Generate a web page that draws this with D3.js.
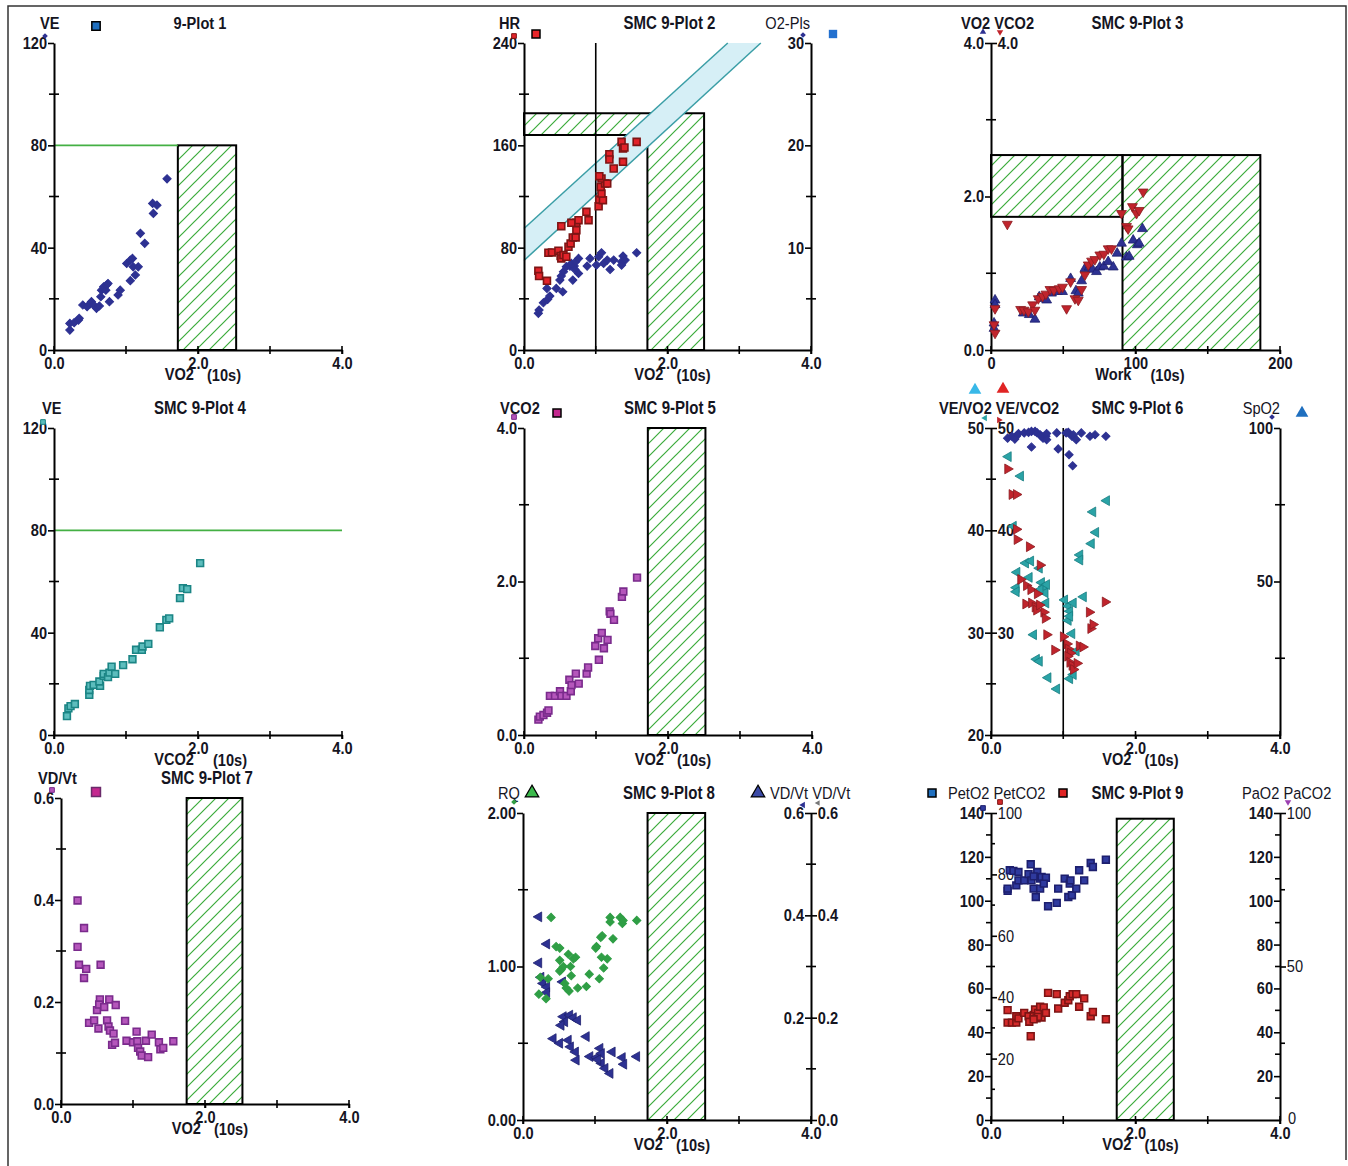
<!DOCTYPE html>
<html lang="en">
<head>
<meta charset="utf-8">
<title>SMC 9-Plot</title>
<script src="https://cdn.jsdelivr.net/npm/d3@7"></script>
<style>
  body { margin: 0; background: #fff; }
  text { fill: #15151f; }
</style>
</head>
<body>
<div id="chart"></div>
<script>
var FONT = "'Liberation Sans',Arial,sans-serif";
var NARROW = 0.86;   // squeeze Arial into an Arial Narrow look

// ---- data ([x, y] pairs) ----
// plot 1: VE vs VO2
var plot1VE = [[0.22,7.8],[0.22,10.4],[0.28,10.7],[0.34,11.7],[0.35,12.4],[0.40,17.6],[0.46,16.9],[0.50,18.0],[0.52,18.9],[0.55,17.6],[0.59,16.3],[0.63,17.2],[0.65,20.8],[0.66,23.4],[0.69,24.7],[0.72,23.4],[0.73,25.4],[0.75,26.0],[0.77,18.9],[0.89,21.5],[0.92,23.4],[1.01,33.8],[1.06,35.1],[1.09,35.8],[1.10,32.5],[1.13,29.3],[1.06,27.1],[1.17,32.5],[1.20,45.6],[1.26,41.7],[1.37,57.3],[1.38,53.4],[1.43,56.6],[1.57,66.9]];
var plot1Zone = [1.72, 2.53, 80];   // VO2 from, VO2 to, VE ceiling
var veLimit = 80;

// plot 2: HR and O2 pulse vs VO2
var plot2HR = [[0.20,61.9],[0.21,57.8],[0.32,54.1],[0.34,76.0],[0.39,76.3],[0.48,77.6],[0.51,73.4],[0.52,71.6],[0.55,74.2],[0.59,72.9],[0.62,80.7],[0.65,83.3],[0.68,88.0],[0.72,88.0],[0.73,93.7],[0.73,99.4],[0.66,99.4],[0.52,96.8],[0.76,101.5],[0.87,108.0],[0.90,101.5],[1.04,112.4],[1.05,117.6],[1.10,117.1],[1.08,122.3],[1.07,127.5],[1.13,130.1],[1.08,134.0],[1.05,135.9],[1.16,130.1],[1.19,153.0],[1.19,148.9],[1.25,141.9],[1.38,147.1],[1.36,162.7],[1.38,157.5],[1.40,158.3],[1.57,162.7]];
var plot2O2P = [[0.20,3.58],[0.21,3.91],[0.27,4.62],[0.33,4.95],[0.36,5.27],[0.32,6.02],[0.45,6.02],[0.54,5.69],[0.50,6.83],[0.52,7.22],[0.55,7.65],[0.59,8.14],[0.64,8.20],[0.66,8.46],[0.70,8.20],[0.72,8.62],[0.76,7.48],[0.68,6.83],[0.71,7.87],[0.76,8.95],[0.88,8.20],[0.92,8.95],[1.01,8.30],[1.04,9.11],[1.08,9.50],[1.11,8.46],[1.16,8.79],[1.20,7.87],[1.25,8.79],[1.36,8.62],[1.38,9.18],[1.41,8.79],[1.36,8.30],[1.57,9.50]];
var plot2Zone = [[0,168],[0,185],[2.51,185],[2.51,0],[1.72,0],[1.72,168]];
var plot2Band = [[0,70],[3.30,240],[2.84,240],[0,95]];
var plot2BandLow = [[0,70],[3.30,240]];
var plot2BandHigh = [[0,95],[2.84,240]];
var vo2Marker = 1.0;

// plot 3: VO2 and VCO2 vs work
var plot3VCO2 = [[2.8,0.54],[2.1,0.33],[2.8,0.22],[11.3,1.64],[20.5,0.53],[22.8,0.52],[25.8,0.50],[28.8,0.59],[30.4,0.52],[32.7,0.67],[35.7,0.70],[38.0,0.73],[40.8,0.79],[43.5,0.78],[47.2,0.80],[49.5,0.82],[52.3,0.54],[55.1,0.89],[58.1,0.67],[60.4,0.65],[62.7,0.79],[65.0,0.98],[67.3,1.11],[69.6,1.16],[71.9,1.18],[75.3,1.24],[78.1,1.25],[81.1,1.32],[83.4,1.32],[90.3,1.78],[93.8,1.61],[94.9,1.58],[97.9,1.87],[100.7,1.78],[102.5,1.82],[105.3,2.06]];
var plot3VO2 = [[2.8,0.65],[2.8,0.59],[2.1,0.28],[2.1,0.35],[22.4,0.48],[26.5,0.46],[30.4,0.40],[33.4,0.69],[35.7,0.67],[38.5,0.65],[41.9,0.74],[45.9,0.76],[49.5,0.76],[55.1,0.93],[58.8,0.77],[60.4,0.74],[62.7,0.90],[65.0,1.06],[68.0,1.08],[70.3,1.05],[73.0,1.02],[75.3,1.08],[78.1,1.09],[81.1,1.15],[84.6,1.08],[87.3,1.26],[90.3,1.39],[93.8,1.21],[95.6,1.22],[98.4,1.43],[101.2,1.37],[102.5,1.39],[104.8,1.58]];
var plot3ZoneA = [0, 91, 1.735, 2.54];
var plot3ZoneB = [91, 186.4, 0, 2.54];

// plot 4: VE vs VCO2
var plot4VE = [[0.18,7.4],[0.20,10.4],[0.23,11.3],[0.29,12.1],[0.49,15.7],[0.49,17.6],[0.50,19.2],[0.55,19.6],[0.64,19.2],[0.63,20.9],[0.69,23.1],[0.69,23.9],[0.75,22.6],[0.77,24.4],[0.80,26.7],[0.85,23.9],[0.96,27.3],[1.09,29.6],[1.14,33.3],[1.22,33.3],[1.23,34.6],[1.31,35.6],[1.47,42.1],[1.56,45.0],[1.60,45.6],[1.75,53.5],[1.79,57.4],[1.85,57.0],[2.03,67.2]];

// plot 5: VCO2 vs VO2
var plot5VCO2 = [[0.20,0.20],[0.22,0.24],[0.27,0.26],[0.32,0.29],[0.34,0.32],[0.36,0.51],[0.43,0.51],[0.50,0.57],[0.52,0.51],[0.59,0.51],[0.65,0.57],[0.63,0.72],[0.66,0.65],[0.72,0.80],[0.76,0.67],[0.87,0.80],[0.89,0.88],[1.04,0.98],[0.99,1.16],[1.03,1.26],[1.08,1.33],[1.11,1.13],[1.16,1.24],[1.19,1.61],[1.20,1.58],[1.25,1.50],[1.36,1.80],[1.38,1.87],[1.57,2.05]];
var plot5Zone = [1.72, 2.52, 4.0];

// plot 6: VE/VO2, VE/VCO2, SpO2 vs VO2
var plot6SpO2 = [[0.23,96.7],[0.29,97.3],[0.35,97.3],[0.38,98.2],[0.46,98.4],[0.52,98.6],[0.56,98.9],[0.61,98.9],[0.64,98.4],[0.68,97.8],[0.70,97.3],[0.72,96.7],[0.76,97.3],[0.77,98.2],[0.91,98.4],[1.07,98.6],[1.12,97.3],[1.14,97.8],[1.18,96.2],[1.25,98.4],[1.37,97.3],[1.44,97.8],[1.59,97.3],[0.56,93.8],[0.93,93.2],[1.08,91.3],[1.13,87.7],[1.04,98.4],[0.77,96.2],[0.33,96.4]];
var plot6VEVO2 = [[0.24,47.2],[0.41,45.3],[0.31,40.4],[0.36,35.9],[0.35,34.4],[0.35,34.0],[0.48,36.8],[0.53,35.4],[0.55,37.0],[0.67,36.3],[0.70,34.9],[0.73,34.5],[0.75,33.9],[0.77,34.7],[0.68,34.2],[0.76,32.9],[0.59,29.8],[0.63,27.4],[0.67,27.2],[0.79,25.6],[0.91,24.5],[1.02,33.2],[1.07,32.6],[1.09,32.1],[1.07,31.2],[1.12,29.9],[1.09,25.5],[1.14,25.9],[1.18,28.2],[1.23,37.6],[1.23,37.1],[1.28,33.5],[1.39,38.7],[1.41,41.8],[1.45,39.8],[1.60,42.9],[1.14,32.9],[1.09,31.6]];
var plot6VEVCO2 = [[0.23,46.0],[0.29,43.5],[0.35,43.5],[0.35,40.1],[0.36,39.1],[0.53,38.4],[0.41,35.2],[0.49,34.6],[0.55,34.2],[0.64,33.8],[0.68,36.6],[0.48,32.8],[0.56,32.9],[0.61,32.5],[0.63,32.2],[0.67,32.7],[0.73,32.0],[0.75,31.4],[0.77,29.8],[0.88,28.3],[1.00,29.6],[1.05,28.9],[1.07,28.4],[1.10,28.0],[1.06,27.7],[1.09,27.1],[1.12,26.8],[1.14,26.4],[1.19,27.0],[1.22,28.7],[1.27,28.6],[1.36,32.0],[1.38,30.4],[1.41,30.8],[1.58,33.0]];

// plot 7: VD/Vt vs VO2
var plot7VDVt = [[0.23,0.399],[0.32,0.345],[0.23,0.308],[0.25,0.273],[0.35,0.265],[0.32,0.247],[0.55,0.273],[0.50,0.184],[0.54,0.205],[0.53,0.195],[0.60,0.190],[0.67,0.205],[0.76,0.194],[0.39,0.159],[0.46,0.164],[0.52,0.148],[0.64,0.164],[0.66,0.152],[0.68,0.144],[0.73,0.138],[0.71,0.116],[0.75,0.120],[0.89,0.163],[0.91,0.124],[1.00,0.121],[1.05,0.142],[1.06,0.123],[1.07,0.110],[1.10,0.103],[1.12,0.095],[1.18,0.124],[1.21,0.092],[1.26,0.136],[1.36,0.121],[1.38,0.107],[1.42,0.110],[1.56,0.123]];
var plot7Zone = [1.745, 2.52, 0.6];

// plot 8: RQ and VD/Vt vs VO2
var plot8RQ = [[0.22,0.82],[0.32,0.79],[0.24,0.93],[0.35,0.92],[0.39,1.32],[0.46,1.13],[0.51,1.12],[0.51,1.04],[0.53,0.98],[0.56,1.00],[0.51,0.97],[0.58,0.89],[0.60,0.86],[0.64,0.84],[0.63,1.08],[0.66,1.00],[0.67,0.94],[0.70,1.05],[0.73,1.06],[0.76,0.86],[0.88,0.87],[0.92,0.95],[1.01,1.12],[1.02,1.13],[1.06,0.92],[1.08,1.19],[1.10,1.20],[1.09,1.06],[1.12,0.99],[1.17,1.05],[1.21,1.32],[1.21,1.29],[1.25,1.18],[1.35,1.32],[1.38,1.28],[1.39,1.30],[1.58,1.30]];
var plot8VDVt = [[0.22,0.397],[0.33,0.344],[0.22,0.307],[0.25,0.279],[0.28,0.267],[0.33,0.260],[0.33,0.249],[0.55,0.270],[0.56,0.202],[0.58,0.192],[0.53,0.185],[0.65,0.205],[0.70,0.200],[0.76,0.195],[0.42,0.159],[0.51,0.150],[0.63,0.156],[0.66,0.143],[0.73,0.133],[0.74,0.117],[0.88,0.163],[0.93,0.124],[1.02,0.122],[1.07,0.140],[1.09,0.111],[1.14,0.101],[1.21,0.091],[1.24,0.133],[1.38,0.122],[1.40,0.109],[1.58,0.124],[1.09,0.130],[1.04,0.118]];
var plot8Zone = [1.73, 2.53, 2.0];

// plot 9: PetO2 and PetCO2 vs VO2
var plot9PetO2 = [[0.23,104.5],[0.23,105.5],[0.26,113.9],[0.31,113.6],[0.35,107.0],[0.38,113.1],[0.38,109.3],[0.46,109.3],[0.52,112.1],[0.55,116.6],[0.56,109.3],[0.59,105.5],[0.62,101.7],[0.64,113.1],[0.68,110.1],[0.68,105.5],[0.70,110.8],[0.76,110.5],[0.79,97.5],[0.91,99.0],[0.93,105.5],[1.02,110.1],[1.07,101.7],[1.09,107.8],[1.10,109.3],[1.12,102.5],[1.18,105.5],[1.22,113.9],[1.29,109.3],[1.38,117.2],[1.41,115.4],[1.59,118.7],[0.73,107.8],[0.59,111.1]];
var plot9PetCO2 = [[0.23,35.8],[0.23,31.7],[0.29,31.7],[0.35,31.7],[0.35,33.8],[0.38,33.1],[0.46,34.9],[0.52,33.8],[0.53,32.0],[0.55,27.3],[0.59,34.2],[0.61,36.0],[0.63,33.1],[0.65,34.9],[0.68,36.9],[0.70,33.4],[0.73,36.7],[0.76,34.9],[0.79,41.4],[0.91,41.0],[0.93,36.3],[1.02,38.2],[1.07,39.0],[1.09,40.3],[1.13,41.0],[1.18,41.0],[1.22,36.9],[1.29,39.6],[1.38,33.8],[1.41,35.2],[1.59,32.8],[0.65,33.6],[0.59,32.8]];
var plot9Zone = [1.74, 2.53, 137.4];

// ---- tick values ----
var vo2Ticks = [0, 2, 4], vo2Minor = [1, 3];
var workTicks = [0, 100, 200], workMinor = [50, 150];
var veTicks = [0, 40, 80, 120], veMinor = [20, 60, 100];
var hrTicks = [0, 80, 160, 240], hrMinor = [40, 120, 200];
var o2pTicks = [10, 20, 30], o2pMinor = [5, 15, 25];
var litreTicks = [0, 2, 4], litreMinor = [1, 3];
var eqTicks = [20, 30, 40, 50], eqInner = [30, 40, 50], eqMinor = [25, 35, 45];
var spo2Ticks = [50, 100], spo2Minor = [25, 75];
var vdTicks = [0, 0.2, 0.4, 0.6], vdMinor = [0.1, 0.3, 0.5];
var rqTicks = [0, 1, 2], rqMinor = [0.5, 1.5];
var po2Ticks = [0, 20, 40, 60, 80, 100, 120, 140], po2Minor = [10, 30, 50, 70, 90, 110, 130];
var pco2Ticks = [20, 40, 60, 80, 100], pco2Minor = [10, 30, 50, 70, 90];
var paco2Ticks = [0, 50, 100], paco2Minor = [25, 75];

// ---- colours ----
var navy = "#2d3192", navyDark = "#1d1f6e";
var redFill = "#e2232a", redEdge = "#7d1414";
var tealFill = "#5cbdbd", tealEdge = "#1b8585";
var purpFill = "#b556bb", purpEdge = "#7a2b8c";
var triRed = "#c0242c", triTeal = "#2aa3a6";
var green = "#2f9e45";

var w = 1348, h = 1166;
var svg = d3.select("#chart").append("svg").attr("width", w).attr("height", h);

var defs = svg.append("defs");
defs.append("pattern").attr("id", "hatch")
  .attr("patternUnits", "userSpaceOnUse").attr("width", 13).attr("height", 13)
  .append("path").attr("d", "M-2,2 l4,-4 M0,13 l13,-13 M11,15 l4,-4")
  .attr("stroke", "#3bab3b").attr("stroke-width", 1.2);

// outer frame
svg.append("path").attr("d", "M8,1166 V6 H1346 V1160")
  .attr("fill", "none").attr("stroke", "#333").attr("stroke-width", 1.5);

function makePanel(left, right, top, bottom, xDom, yDom, y2Dom) {
  var g = svg.append("g");
  var x = d3.scaleLinear().domain(xDom).range([left, right]);
  var y = d3.scaleLinear().domain(yDom).range([bottom, top]);
  var y2 = y2Dom ? d3.scaleLinear().domain(y2Dom).range([bottom, top]) : null;
  return {g: g, x: x, y: y, y2: y2, left: left, right: right, top: top, bottom: bottom};
}

function styleAxis(a, bold) {
  a.attr("font-family", FONT).attr("font-size", 17).attr("font-weight", bold === false ? "normal" : "bold");
  a.select(".domain").attr("stroke", "#000").attr("stroke-width", 2);
  a.selectAll(".tick line").attr("stroke", "#000").attr("stroke-width", 1.6);
  a.selectAll(".tick text").attr("fill", "#15151f").attr("transform", "scale(" + NARROW + ",1)");
}

function minorTicks(pl, scale, xPos, vals, lo, hi) {
  pl.g.append("g").selectAll("line").data(vals).join("line")
    .attr("x1", xPos + lo).attr("x2", xPos + hi)
    .attr("y1", function(d) { return scale(d); }).attr("y2", function(d) { return scale(d); })
    .attr("stroke", "#000").attr("stroke-width", 1.6);
}

function yAxis(pl, scale, xPos, side, ticks, fmt, showDomain, bold) {
  var ax = (side == "left" ? d3.axisLeft(scale) : d3.axisRight(scale))
    .tickValues(ticks).tickFormat(fmt).tickSize(6).tickSizeOuter(0).tickPadding(2);
  var a = pl.g.append("g").attr("transform", "translate(" + xPos + ",0)").call(ax);
  styleAxis(a, bold);
  if (!showDomain) a.select(".domain").remove();
  return a;
}

function xAxis(pl, ticks, minor, fmt, name, gap) {
  var ax = d3.axisBottom(pl.x).tickValues(ticks).tickFormat(fmt).tickSize(4).tickSizeOuter(0).tickPadding(3);
  var a = pl.g.append("g").attr("transform", "translate(0," + pl.bottom + ")").call(ax);
  styleAxis(a);
  pl.g.append("g").selectAll("line").data(ticks.concat(minor)).join("line")
    .attr("x1", function(d) { return pl.x(d); }).attr("x2", function(d) { return pl.x(d); })
    .attr("y1", pl.bottom - 4).attr("y2", pl.bottom + 4)
    .attr("stroke", "#000").attr("stroke-width", 1.6);
  // the axis name runs under the middle tick label, as in the original
  var mid = pl.x(ticks[1]);
  label(mid - 4, pl.bottom + 30, name, "end", true);
  label(mid + gap, pl.bottom + 31, "(10s)", "start", true);
}

function label(x, y, s, anchor, bold, size) {
  return svg.append("text")
    .attr("transform", "translate(" + x + "," + y + ") scale(" + NARROW + ",1)")
    .text(s)
    .attr("text-anchor", anchor || "start")
    .attr("font-family", FONT).attr("font-size", size || 17)
    .attr("font-weight", bold ? "bold" : "normal");
}

function title(pl, s) {
  label((pl.left + pl.right) / 2 + 2, pl.top - 14, s, "middle", true, 17.5);
}

var shapes = {
  diamond: {type: d3.symbolSquare, rot: 45},
  square: {type: d3.symbolSquare, rot: 0},
  up: {type: d3.symbolTriangle, rot: 0},
  down: {type: d3.symbolTriangle, rot: 180},
  left: {type: d3.symbolTriangle, rot: -90},
  right: {type: d3.symbolTriangle, rot: 90}
};

function points(pl, data, yScale, shape, size, fill, stroke, sw) {
  var s = shapes[shape];
  pl.g.append("g").selectAll("path").data(data).join("path")
    .attr("transform", function(d) {
      return "translate(" + pl.x(d[0]) + "," + yScale(d[1]) + ") rotate(" + s.rot + ")";
    })
    .attr("d", d3.symbol().type(s.type).size(size))
    .attr("fill", fill).attr("stroke", stroke || "none").attr("stroke-width", sw || 1);
}

function glyph(x, y, shape, size, fill, stroke, sw) {
  var s = shapes[shape];
  svg.append("path")
    .attr("transform", "translate(" + x + "," + y + ") rotate(" + s.rot + ")")
    .attr("d", d3.symbol().type(s.type).size(size))
    .attr("fill", fill).attr("stroke", stroke || "none").attr("stroke-width", sw || 1);
}

function zoneRect(pl, yScale, x0, x1, y0, y1) {
  pl.g.append("rect")
    .attr("x", pl.x(x0)).attr("y", yScale(y1))
    .attr("width", pl.x(x1) - pl.x(x0)).attr("height", yScale(y0) - yScale(y1))
    .attr("fill", "url(#hatch)").attr("stroke", "#000").attr("stroke-width", 2);
}

function vLine(pl, v) {
  pl.g.append("line").attr("x1", pl.x(v)).attr("x2", pl.x(v))
    .attr("y1", pl.top).attr("y2", pl.bottom)
    .attr("stroke", "#000").attr("stroke-width", 1.6);
}

var f0 = d3.format("d"), f1 = d3.format(".1f"), f2 = d3.format(".2f");

// ===== plot 1 =====
var p1 = makePanel(54, 342, 43, 350, [0, 4], [0, 120]);
zoneRect(p1, p1.y, plot1Zone[0], plot1Zone[1], 0, plot1Zone[2]);
p1.g.append("line").attr("x1", p1.x(0)).attr("x2", p1.x(plot1Zone[0]))
  .attr("y1", p1.y(veLimit)).attr("y2", p1.y(veLimit)).attr("stroke", "#44b044").attr("stroke-width", 1.6);
yAxis(p1, p1.y, p1.left, "left", veTicks, f0, true);
minorTicks(p1, p1.y, p1.left, veMinor, -5, 5);
xAxis(p1, vo2Ticks, vo2Minor, f1, "VO2", 9);
points(p1, plot1VE, p1.y, "diamond", 34, navy, navy, 1);
label(40, 29, "VE", "start", true);
glyph(96, 26, "square", 70, "#1f6fbf", "#000", 1.5);
glyph(p1.left - 9, p1.top - 7, "diamond", 16, navy);
label((p1.left + p1.right) / 2 + 2, p1.top - 14, "9-Plot 1", "middle", true, 17);

// ===== plot 2 =====
var p2 = makePanel(524, 811, 43, 350, [0, 4], [0, 240], [0, 30]);
var line2 = d3.line().x(function(d) { return p2.x(d[0]); }).y(function(d) { return p2.y(d[1]); });
p2.g.append("path").attr("d", line2(plot2Zone) + "Z")
  .attr("fill", "url(#hatch)").attr("stroke", "#000").attr("stroke-width", 2);
p2.g.append("path").attr("d", line2(plot2Band) + "Z").attr("fill", "#d6eff6");
p2.g.append("path").attr("d", line2(plot2BandLow)).attr("stroke", "#3a9ea6").attr("stroke-width", 1.5).attr("fill", "none");
p2.g.append("path").attr("d", line2(plot2BandHigh)).attr("stroke", "#3a9ea6").attr("stroke-width", 1.5).attr("fill", "none");
vLine(p2, vo2Marker);
yAxis(p2, p2.y, p2.left, "left", hrTicks, f0, true);
minorTicks(p2, p2.y, p2.left, hrMinor, -5, 5);
yAxis(p2, p2.y2, p2.right, "left", o2pTicks, f0, true);
minorTicks(p2, p2.y2, p2.right, o2pMinor, -5, 5);
xAxis(p2, vo2Ticks, vo2Minor, f1, "VO2", 9);
points(p2, plot2O2P, p2.y2, "diamond", 34, navy, navy, 1);
points(p2, plot2HR, p2.y, "square", 48, redFill, redEdge, 1.6);
label(499, 29, "HR", "start", true);
glyph(536, 34, "square", 64, "#e8262a", "#000", 1.5);
glyph(p2.left - 10, p2.top - 7, "square", 22, redFill, redEdge);
label(p2.right - 1, 29, "O2-Pls", "end", false);
glyph(833, 34, "square", 70, "#2270cf");
glyph(p2.right - 8, p2.top - 8, "diamond", 16, navy);
title(p2, "SMC 9-Plot 2");

// ===== plot 3 =====
var p3 = makePanel(991, 1280, 43, 350, [0, 200], [0, 4]);
zoneRect(p3, p3.y, plot3ZoneA[0], plot3ZoneA[1], plot3ZoneA[2], plot3ZoneA[3]);
zoneRect(p3, p3.y, plot3ZoneB[0], plot3ZoneB[1], plot3ZoneB[2], plot3ZoneB[3]);
yAxis(p3, p3.y, p3.left, "left", litreTicks, f1, true);
yAxis(p3, p3.y, p3.left, "right", [4], f1, false);
minorTicks(p3, p3.y, p3.left, litreMinor, -5, 5);
xAxis(p3, workTicks, workMinor, f0, "Work", 15);
points(p3, plot3VO2, p3.y, "up", 42, navy, navyDark, 0.8);
points(p3, plot3VCO2, p3.y, "down", 42, triRed, "#8a1a1f", 0.8);
label(961, 29, "VO2 VCO2", "start", true);
glyph(p3.left - 8, p3.top - 11, "up", 18, navy);
glyph(p3.left + 9, p3.top - 11, "down", 18, triRed);
title(p3, "SMC 9-Plot 3");

// ===== plot 4 =====
var p4 = makePanel(54, 342, 428, 735, [0, 4], [0, 120]);
p4.g.append("line").attr("x1", p4.x(0)).attr("x2", p4.x(4))
  .attr("y1", p4.y(veLimit)).attr("y2", p4.y(veLimit)).attr("stroke", "#44b044").attr("stroke-width", 1.6);
yAxis(p4, p4.y, p4.left, "left", veTicks, f0, true);
minorTicks(p4, p4.y, p4.left, veMinor, -5, 5);
xAxis(p4, vo2Ticks, vo2Minor, f1, "VCO2", 15);
points(p4, plot4VE, p4.y, "square", 46, tealFill, tealEdge, 1.6);
label(42, 414, "VE", "start", true);
glyph(p4.left - 11, p4.top - 6, "square", 22, tealFill, tealEdge);
title(p4, "SMC 9-Plot 4");

// ===== plot 5 =====
var p5 = makePanel(524, 812, 428, 735, [0, 4], [0, 4]);
zoneRect(p5, p5.y, plot5Zone[0], plot5Zone[1], 0, plot5Zone[2]);
yAxis(p5, p5.y, p5.left, "left", litreTicks, f1, true);
minorTicks(p5, p5.y, p5.left, litreMinor, -5, 5);
xAxis(p5, vo2Ticks, vo2Minor, f1, "VO2", 9);
points(p5, plot5VCO2, p5.y, "square", 46, purpFill, purpEdge, 1.6);
label(500, 414, "VCO2", "start", true);
glyph(557, 413, "square", 64, "#c4288f", "#000", 1.5);
glyph(p5.left - 10, p5.top - 11, "square", 22, purpFill, purpEdge);
title(p5, "SMC 9-Plot 5");

// ===== plot 6 =====
var p6 = makePanel(991, 1280, 428, 735, [0, 4], [20, 50], [0, 100]);
vLine(p6, vo2Marker);
yAxis(p6, p6.y, p6.left, "left", eqTicks, f0, true);
yAxis(p6, p6.y, p6.left, "right", eqInner, f0, false);
minorTicks(p6, p6.y, p6.left, eqMinor, -5, 5);
yAxis(p6, p6.y2, p6.right, "left", spo2Ticks, f0, true);
minorTicks(p6, p6.y2, p6.right, spo2Minor, -5, 5);
xAxis(p6, vo2Ticks, vo2Minor, f1, "VO2", 9);
points(p6, plot6SpO2, p6.y2, "diamond", 34, navy, navy, 1);
points(p6, plot6VEVO2, p6.y, "left", 42, triTeal, "#177c80", 0.8);
points(p6, plot6VEVCO2, p6.y, "right", 42, triRed, "#8a1a1f", 0.8);
label(939, 414, "VE/VO2 VE/VCO2", "start", true);
label(p6.right, 414, "SpO2", "end", false);
glyph(1302, 413, "up", 70, "#1f6fbf");
glyph(975, 390, "up", 70, "#38b8e8");
glyph(1003, 389, "up", 70, "#e02424");
glyph(p6.left - 6, p6.top - 10, "left", 18, triTeal);
glyph(p6.left + 8, p6.top - 8, "right", 18, triRed);
glyph(p6.right - 8, p6.top - 11, "diamond", 16, navy);
title(p6, "SMC 9-Plot 6");

// ===== plot 7 =====
var p7 = makePanel(61, 349, 798, 1104, [0, 4], [0, 0.6]);
zoneRect(p7, p7.y, plot7Zone[0], plot7Zone[1], 0, plot7Zone[2]);
yAxis(p7, p7.y, p7.left, "left", vdTicks, f1, true);
minorTicks(p7, p7.y, p7.left, vdMinor, -5, 5);
xAxis(p7, vo2Ticks, vo2Minor, f1, "VO2", 9);
points(p7, plot7VDVt, p7.y, "square", 46, purpFill, purpEdge, 1.6);
label(38, 784, "VD/Vt", "start", true);
glyph(96, 792, "square", 80, "#c4288f", "#6a2a6a", 1.5);
glyph(p7.left - 9, p7.top - 8, "square", 22, purpFill, purpEdge);
title(p7, "SMC 9-Plot 7");

// ===== plot 8 =====
var p8 = makePanel(523, 811, 813, 1120, [0, 4], [0, 2], [0, 0.6]);
zoneRect(p8, p8.y, plot8Zone[0], plot8Zone[1], 0, plot8Zone[2]);
yAxis(p8, p8.y, p8.left, "left", rqTicks, f2, true);
minorTicks(p8, p8.y, p8.left, rqMinor, -5, 5);
yAxis(p8, p8.y2, p8.right, "left", vdTicks.slice(1), f1, true);
yAxis(p8, p8.y2, p8.right, "right", vdTicks, f1, false);
minorTicks(p8, p8.y2, p8.right, vdMinor, -5, 5);
xAxis(p8, vo2Ticks, vo2Minor, f1, "VO2", 9);
points(p8, plot8VDVt, p8.y2, "left", 42, navy, navyDark, 0.8);
points(p8, plot8RQ, p8.y, "diamond", 34, green, green, 1);
label(498, 799, "RQ", "start", false);
glyph(532, 793, "up", 80, "#3cba4c", "#000", 1.2);
glyph(758, 793, "up", 80, "#3b4aa6", "#000", 1.2);
label(770, 799, "VD/Vt VD/Vt", "start", false);
glyph(p8.left - 9, p8.top - 11, "diamond", 16, green);
glyph(p8.right - 8, p8.top - 8, "left", 18, navy);
glyph(p8.right + 7, p8.top - 10, "left", 14, "#777");
title(p8, "SMC 9-Plot 8");

// ===== plot 9 =====
var p9 = makePanel(991, 1280, 813, 1120, [0, 4], [0, 140], [0, 100]);
zoneRect(p9, p9.y, plot9Zone[0], plot9Zone[1], 0, plot9Zone[2]);
yAxis(p9, p9.y, p9.left, "left", po2Ticks, f0, true);
minorTicks(p9, p9.y, p9.left, po2Minor, -5, 0);
yAxis(p9, p9.y2, p9.left, "right", pco2Ticks, f0, false, false);
minorTicks(p9, p9.y2, p9.left, pco2Minor, 0, 4);
yAxis(p9, p9.y, p9.right, "left", po2Ticks.slice(1), f0, true);
minorTicks(p9, p9.y, p9.right, po2Minor, -5, 0);
yAxis(p9, p9.y2, p9.right, "right", paco2Ticks.slice(1), f0, false, false);
minorTicks(p9, p9.y2, p9.right, paco2Minor, 0, 5);
xAxis(p9, vo2Ticks, vo2Minor, f1, "VO2", 9);
// the PaCO2 zero sits just above the 4.0 tick label
label(p9.right + 8, p9.bottom + 4, "0", "start", false);
points(p9, plot9PetO2, p9.y, "square", 46, "#2f3a9e", navyDark, 1.6);
points(p9, plot9PetCO2, p9.y2, "square", 46, "#d42a2a", redEdge, 1.6);
glyph(932, 793, "square", 64, "#1f6fbf", "#000", 1.5);
label(948, 799, "PetO2 PetCO2", "start", false);
glyph(1063, 793, "square", 64, "#e02424", "#000", 1.5);
label(1242, 799, "PaO2 PaCO2", "start", false);
glyph(p9.left - 8, p9.top - 5, "square", 22, "#2f3a9e", navyDark);
glyph(p9.left + 9, p9.top - 11, "square", 22, "#d42a2a", redEdge);
glyph(p9.right + 8, p9.top - 11, "down", 18, "#9b3fb0");
title(p9, "SMC 9-Plot 9");
</script>
</body>
</html>
